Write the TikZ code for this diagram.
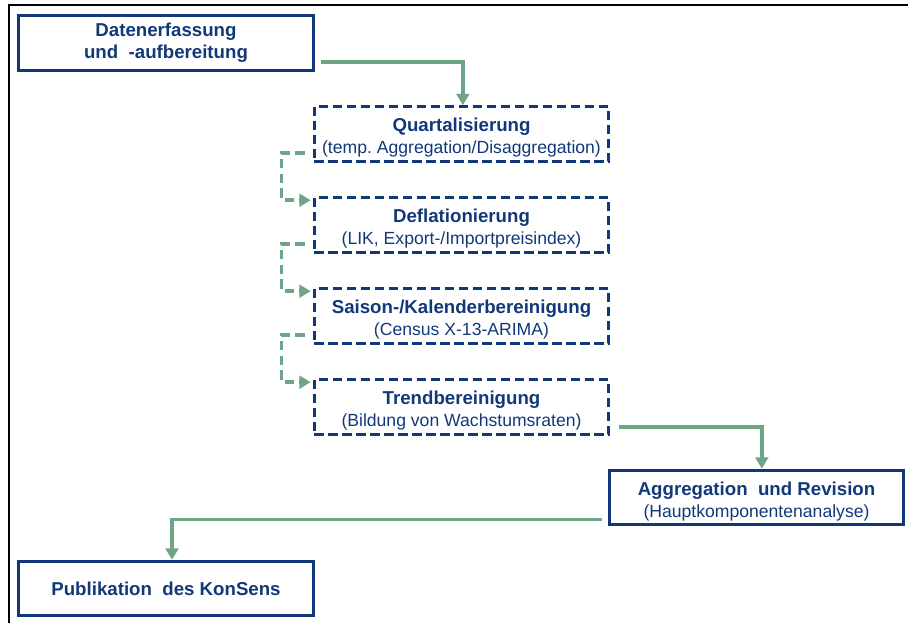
\documentclass[tikz,border=0pt]{standalone}
\usepackage{fontspec}
\setmainfont{Liberation Sans}
\usepackage{tikz}
\usetikzlibrary{arrows.meta,calc,positioning}
\frenchspacing

\definecolor{navy}{RGB}{18,56,122}
\definecolor{sage}{RGB}{110,165,135}
\newcommand{\head}[1]{\rule{0pt}{16pt}\textbf{#1}}
\newcommand{\detail}[1]{{\fontsize{13.2}{16.5}\selectfont #1}}

\begin{document}
\begin{tikzpicture}[
        x=0.75pt, y=-0.75pt,
        font=\fontsize{14}{16.5}\selectfont,
        proc/.style = {draw=navy, line width=2.2pt, minimum width=221pt, minimum height=41pt, align=center, text=navy, inner sep=1pt},
        subproc/.style = {proc, dash pattern=on 7pt off 3.5pt},
        arrow/.style = {draw=sage, line width=2.6pt, -{Triangle[width=9.5pt,length=8.5pt]}},
        dasharrow/.style = {arrow, dash pattern=on 7pt off 4pt}
        ]
        \useasboundingbox (0,0) rectangle (908,623);
        \draw[line width=1.5pt] (9,623) -- (9,5) -- (908,5);

        \node[proc] (daten) at (166,43) {\textbf{Datenerfassung}\\\textbf{und~ -aufbereitung}};
        \node[subproc] (quart) at (461.5,134) {\head{Quartalisierung}\\\detail{(temp. Aggregation/Disaggregation)}};
        \node[subproc] (defl) at (461.5,225) {\head{Deflationierung}\\\detail{(LIK, Export-/Importpreisindex)}};
        \node[subproc] (saison) at (461.5,316) {\head{Saison-/Kalenderbereinigung}\\\detail{(Census X-13-ARIMA)}};
        \node[subproc] (trend) at (461.5,407) {\head{Trendbereinigung}\\\detail{(Bildung von Wachstumsraten)}};
        \node[proc] (aggr) at (756.5,497.5) {\head{Aggregation~ und Revision}\\\detail{(Hauptkomponentenanalyse)}};
        \node[proc] (publ) at (166,588.5) {\textbf{Publikation~ des KonSens}};

        \draw[arrow] ($(daten.south east)+(6,-10)$) -| ([xshift=1pt]quart.north);
        \draw[dasharrow] ($(quart.south west)+(-8,-10)$) -- ++(-23,0) |- ($(defl.north west)+(-2,4)$);
        \draw[dasharrow] ($(defl.south west)+(-8,-10)$) -- ++(-23,0) |- ($(saison.north west)+(-2,4)$);
        \draw[dasharrow] ($(saison.south west)+(-8,-10)$) -- ++(-23,0) |- ($(trend.north west)+(-2,4)$);
        \draw[arrow] ($(trend.south east)+(9,-9)$) -| ([xshift=4pt]aggr.north);
        \draw[arrow] ($(aggr.south west)+(-6,-7)$) -| ([xshift=4.5pt]publ.north);

    \end{tikzpicture}
\end{document}
